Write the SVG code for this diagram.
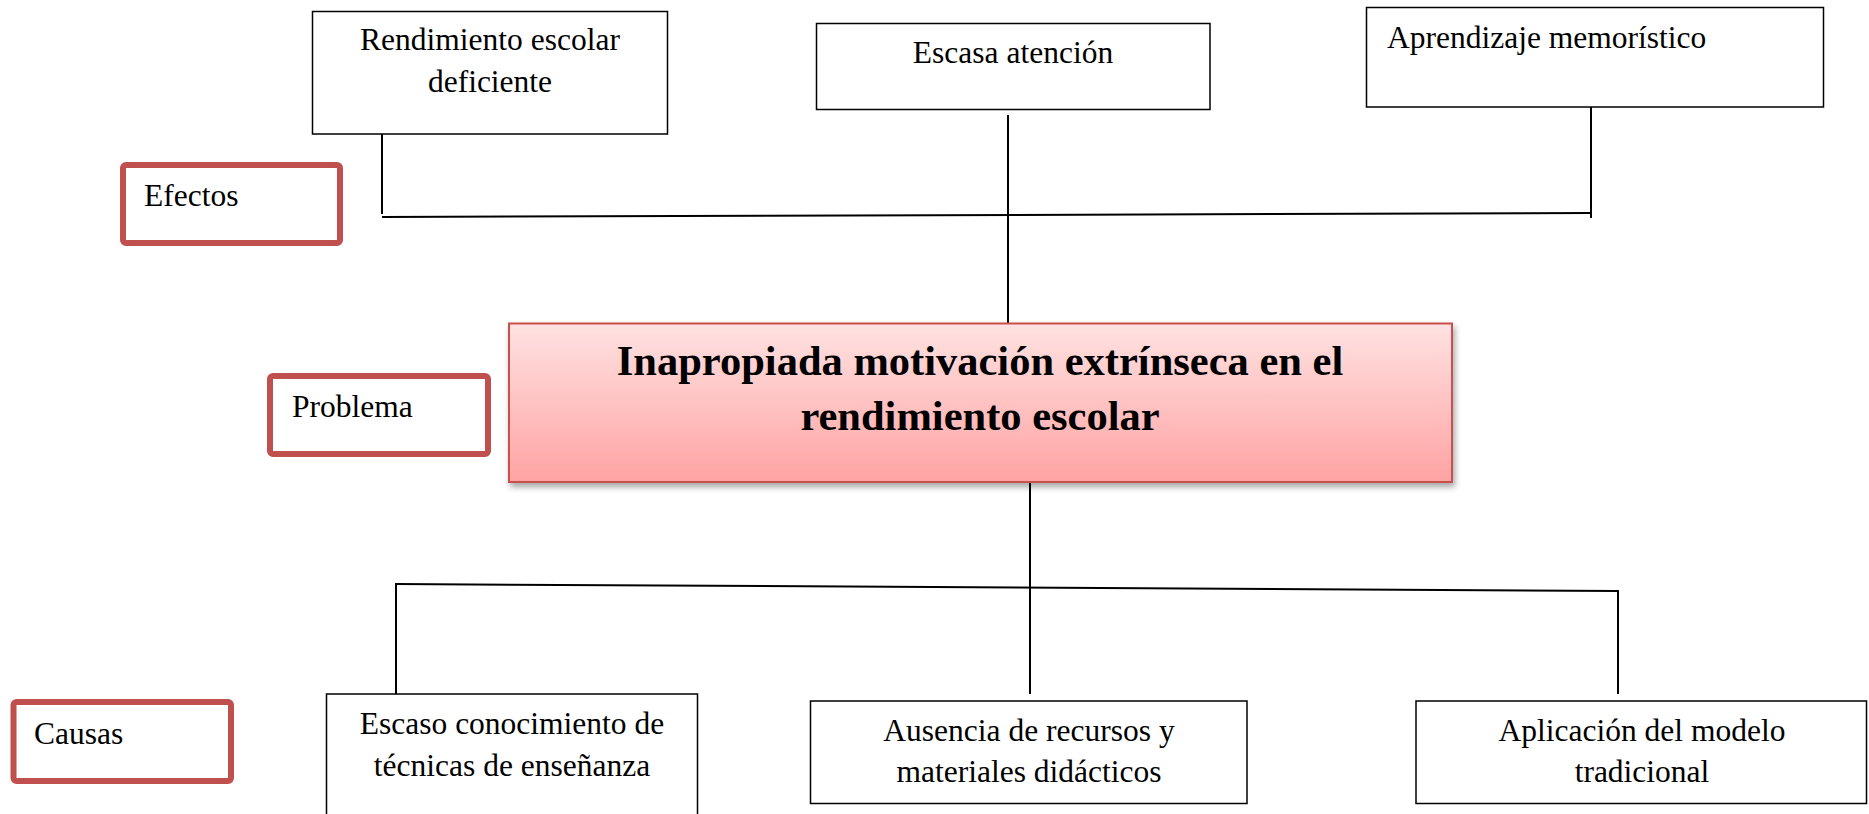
<svg xmlns="http://www.w3.org/2000/svg" width="1869" height="814" viewBox="0 0 1869 814">
<style>
.box{fill:#fff;stroke:#000;stroke-width:1.5}
.lbl{fill:#fff;stroke:#C0504D;stroke-width:6}
.t{font-family:"Liberation Serif","Times New Roman",serif;font-size:31.5px;fill:#000}
.c{text-anchor:middle}
.title{font-family:"Liberation Serif","Times New Roman",serif;font-size:42.5px;font-weight:bold;fill:#000;text-anchor:middle}
.ln{stroke:#000;stroke-width:2;fill:none}
</style>
<defs>
<linearGradient id="g" x1="0" y1="0" x2="0" y2="1">
<stop offset="0" stop-color="#FFE2E2"/>
<stop offset="1" stop-color="#FFA3A3"/>
</linearGradient>
<filter id="sh" x="-5%" y="-10%" width="110%" height="130%">
<feDropShadow dx="2" dy="4" stdDeviation="3" flood-color="#000" flood-opacity="0.35"/>
</filter>
</defs>
<rect width="1869" height="814" fill="#fff"/>
<g id="connectors">
<line class="ln" x1="382" y1="134" x2="382" y2="214"/>
<line class="ln" x1="382" y1="217" x2="1591" y2="213"/>
<line class="ln" x1="1591" y1="103" x2="1591" y2="218"/>
<line class="ln" x1="1008" y1="115" x2="1008" y2="323"/>
<line class="ln" x1="1030" y1="483" x2="1030" y2="694"/>
<line class="ln" x1="396" y1="584" x2="1618" y2="591"/>
<line class="ln" x1="396" y1="583" x2="396" y2="694"/>
<line class="ln" x1="1618" y1="590" x2="1618" y2="694"/>
</g>
<g id="rendimiento">
<rect class="box" x="312.5" y="11.5" width="355" height="122.5"/>
<text class="t c" x="490" y="50">Rendimiento escolar</text>
<text class="t c" x="490" y="92">deficiente</text>
</g>
<g id="escasa">
<rect class="box" x="816.5" y="23.5" width="393.5" height="86"/>
<text class="t c" x="1013" y="63">Escasa atención</text>
</g>
<g id="aprendizaje">
<rect class="box" x="1366.5" y="7.5" width="457" height="99.5"/>
<text class="t" x="1387" y="48">Aprendizaje memorístico</text>
</g>
<g id="efectos">
<rect class="lbl" x="123" y="165" width="217" height="78" rx="3"/>
<text class="t" x="144" y="206">Efectos</text>
</g>
<g id="problema">
<rect class="lbl" x="270" y="376" width="218" height="78" rx="3"/>
<text class="t" x="292" y="417">Problema</text>
</g>
<g id="problema-central">
<rect x="509" y="323.5" width="943" height="158.5" fill="url(#g)" stroke="#C9514E" stroke-width="2" filter="url(#sh)"/>
<text class="title" x="980" y="375">Inapropiada motivación extrínseca en el</text>
<text class="title" x="980" y="430">rendimiento escolar</text>
</g>
<g id="causas">
<rect class="lbl" x="13.5" y="702" width="217.5" height="79" rx="3"/>
<text class="t" x="34" y="744">Causas</text>
</g>
<g id="escaso">
<rect class="box" x="326.5" y="694" width="371" height="130"/>
<text class="t c" x="512" y="734">Escaso conocimiento de</text>
<text class="t c" x="512" y="776">técnicas de enseñanza</text>
</g>
<g id="ausencia">
<rect class="box" x="810.5" y="701" width="436.5" height="102.5"/>
<text class="t c" x="1029" y="741">Ausencia de recursos y</text>
<text class="t c" x="1029" y="782">materiales didácticos</text>
</g>
<g id="aplicacion">
<rect class="box" x="1416" y="701" width="450.5" height="102.5"/>
<text class="t c" x="1642" y="741">Aplicación del modelo</text>
<text class="t c" x="1642" y="782">tradicional</text>
</g>
</svg>
